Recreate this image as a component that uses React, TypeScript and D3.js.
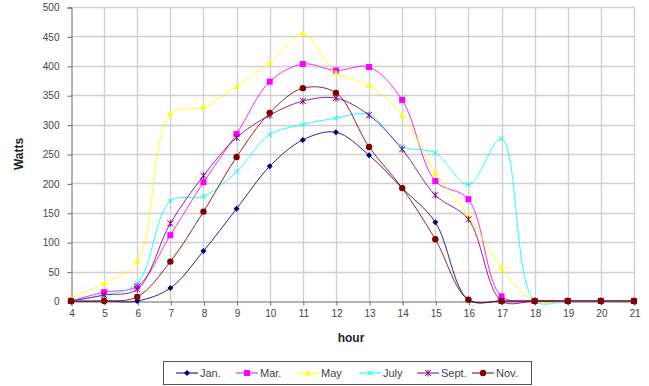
import React, { useEffect, useRef } from 'react';
import * as d3 from 'd3';

const hours = [4, 5, 6, 7, 8, 9, 10, 11, 12, 13, 14, 15, 16, 17, 18, 19, 20, 21];
const yTicks = [0, 50, 100, 150, 200, 250, 300, 350, 400, 450, 500];

const jan = [0, 0, 0, 22, 85, 157, 229, 274, 287, 248, 192, 134, 2, 0, 0, 0, 0, 0];
const mar = [0, 15, 25, 112, 202, 284, 373, 403, 392, 398, 342, 204, 173, 8, 0, 0, 0, 0];
const may = [5, 30, 67, 318, 330, 365, 405, 455, 388, 367, 316, 218, 145, 56, 0, 0, 0, 0];
const july = [0, 10, 30, 170, 178, 220, 283, 300, 311, 317, 263, 252, 198, 276, 0, 0, 0, 0];
const sept = [0, 10, 20, 132, 213, 278, 316, 340, 345, 316, 258, 180, 139, 0, 0, 0, 0, 0];
const nov = [0, 0, 7, 67, 152, 245, 320, 362, 354, 262, 192, 105, 2, 0, 0, 0, 0, 0];

const seriesNames = ['Jan.', 'Mar.', 'May', 'July', 'Sept.', 'Nov.'];
const seriesColors = ['#000080', '#ff00ff', '#ffff00', '#00ffff', '#800080', '#800000'];
const markerShapes = ['diamond', 'square', 'triangle', 'x', 'star', 'circle'];

const W = 649;
const H = 386;
const left = 71;
const right = 634;
const top = 7;
const bottom = 301;

const App = () => {
  const svgRef = useRef<SVGSVGElement>(null);

  useEffect(() => {
    const svg = d3.select(svgRef.current);
    svg.selectAll('*').remove();

    const values = [jan, mar, may, july, sept, nov];

    const x = d3.scaleLinear().domain([4, 21]).range([left, right]);
    const y = d3.scaleLinear().domain([0, 500]).range([bottom, top]);

    const font = 'Arial, "Liberation Sans", sans-serif';

    // grid
    const grid = svg.append('g');
    grid.selectAll('.hg')
      .data(yTicks.slice(1))
      .enter()
      .append('line')
      .attr('x1', left)
      .attr('x2', right + 1)
      .attr('y1', d => Math.round(y(d)) + 0.5)
      .attr('y2', d => Math.round(y(d)) + 0.5)
      .attr('stroke', '#cfcfcf')
      .attr('stroke-width', 1.3);
    grid.selectAll('.vg')
      .data(hours.slice(1))
      .enter()
      .append('line')
      .attr('x1', d => Math.round(x(d)) + 0.5)
      .attr('x2', d => Math.round(x(d)) + 0.5)
      .attr('y1', top)
      .attr('y2', bottom)
      .attr('stroke', '#cfcfcf')
      .attr('stroke-width', 1.3);

    // axes
    const yAxis = d3.axisLeft(y).tickValues(yTicks).tickSize(4).tickPadding(8);
    const gy = svg.append('g')
      .attr('transform', `translate(${left + 0.5},0.5)`)
      .call(yAxis);
    gy.select('.domain').attr('stroke', '#666');
    gy.selectAll('line').attr('stroke', '#666');
    gy.selectAll('text')
      .style('font-family', font)
      .style('font-size', '10px')
      .attr('fill', '#444');

    const xAxis = d3.axisBottom(x).tickValues(hours).tickFormat(d3.format('d')).tickSize(4).tickPadding(4);
    const gx = svg.append('g')
      .attr('transform', `translate(0.5,${bottom + 0.5})`)
      .call(xAxis);
    gx.select('.domain').attr('stroke', '#666');
    gx.selectAll('line').attr('stroke', '#666');
    gx.selectAll('text')
      .style('font-family', font)
      .style('font-size', '10px')
      .attr('fill', '#444');

    // axis titles
    svg.append('text')
      .attr('transform', `translate(23,${(top + bottom) / 2}) rotate(-90)`)
      .attr('text-anchor', 'middle')
      .style('font-family', font)
      .style('font-size', '12px')
      .style('font-weight', 'bold')
      .attr('fill', '#222')
      .text('Watts');

    svg.append('text')
      .attr('x', 351)
      .attr('y', 342)
      .attr('text-anchor', 'middle')
      .style('font-family', font)
      .style('font-size', '12px')
      .style('font-weight', 'bold')
      .attr('fill', '#222')
      .text('hour');

    const drawMarker = (g: any, shape: string, cx: number, cy: number, color: string) => {
      if (shape === 'diamond') {
        g.append('path')
          .attr('d', `M${cx},${cy - 3}L${cx + 3},${cy}L${cx},${cy + 3}L${cx - 3},${cy}Z`)
          .attr('fill', color);
      } else if (shape === 'square') {
        g.append('rect')
          .attr('x', cx - 3).attr('y', cy - 3)
          .attr('width', 6).attr('height', 6)
          .attr('fill', color);
      } else if (shape === 'triangle') {
        g.append('path')
          .attr('d', `M${cx},${cy - 3}L${cx + 3},${cy + 2.5}L${cx - 3},${cy + 2.5}Z`)
          .attr('fill', color);
      } else if (shape === 'x') {
        g.append('path')
          .attr('d', `M${cx - 2.5},${cy - 2.5}L${cx + 2.5},${cy + 2.5}M${cx - 2.5},${cy + 2.5}L${cx + 2.5},${cy - 2.5}`)
          .attr('stroke', color).attr('stroke-width', 1);
      } else if (shape === 'star') {
        g.append('path')
          .attr('d', `M${cx - 3},${cy - 3}L${cx + 3},${cy + 3}M${cx - 3},${cy + 3}L${cx + 3},${cy - 3}M${cx},${cy - 3.5}L${cx},${cy + 3.5}`)
          .attr('stroke', color).attr('stroke-width', 1);
      } else {
        g.append('circle')
          .attr('cx', cx).attr('cy', cy).attr('r', 3.2)
          .attr('fill', color);
      }
    };

    const line = d3.line<number>()
      .x((_, i) => x(hours[i]))
      .y(d => y(d))
      .curve(d3.curveCatmullRom.alpha(0.5));

    values.forEach((vals, si) => {
      const g = svg.append('g');
      g.append('path')
        .datum(vals)
        .attr('d', line)
        .attr('fill', 'none')
        .attr('stroke', seriesColors[si])
        .attr('stroke-width', 1)
        .attr('stroke-opacity', 0.85);
      vals.forEach((v, i) => drawMarker(g, markerShapes[si], x(hours[i]), y(v), seriesColors[si]));
    });

    // legend
    const legendX = [176, 236, 297, 359, 417, 472];
    const lg = svg.append('g');
    lg.append('rect')
      .attr('x', 163.5).attr('y', 361.5)
      .attr('width', 368).attr('height', 23)
      .attr('fill', '#fff')
      .attr('stroke', '#555');
    seriesNames.forEach((name, i) => {
      const lx = legendX[i];
      lg.append('line')
        .attr('x1', lx).attr('x2', lx + 22)
        .attr('y1', 373).attr('y2', 373)
        .attr('stroke', seriesColors[i])
        .attr('stroke-width', 1);
      drawMarker(lg, markerShapes[i], lx + 11, 373, seriesColors[i]);
      lg.append('text')
        .attr('x', lx + 24)
        .attr('y', 377)
        .style('font-family', font)
        .style('font-size', '11px')
        .attr('fill', '#444')
        .text(name);
    });
  }, []);

  return (
    <svg
      ref={svgRef}
      width={W}
      height={H}
      style={{ position: 'absolute', left: 0, top: 0, background: '#fff' }}
    />
  );
};

export default App;
